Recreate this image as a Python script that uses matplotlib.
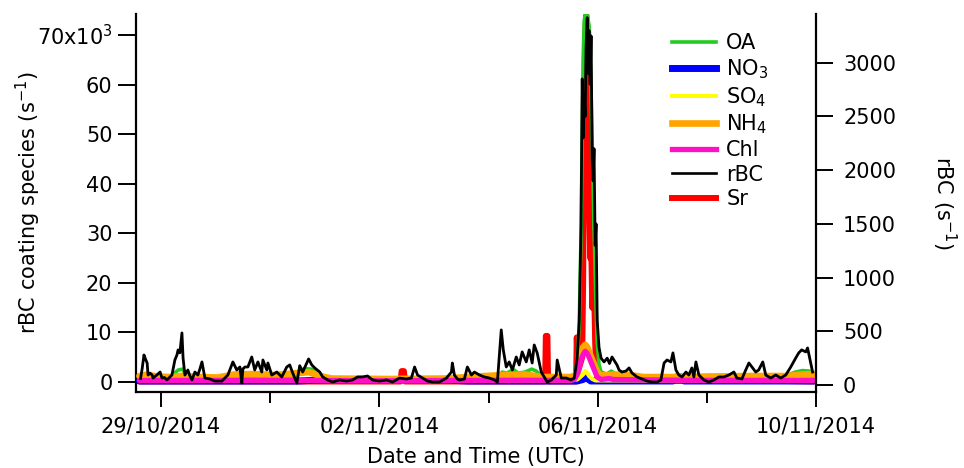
import numpy as np
import matplotlib
matplotlib.use("Agg")
import matplotlib.pyplot as plt
import matplotlib.dates as mdates
from matplotlib.ticker import FixedLocator, FixedFormatter
from matplotlib.lines import Line2D
from datetime import datetime

plt.rcParams['font.family'] = ['DejaVu Sans']
plt.rcParams['mathtext.fontset'] = 'dejavusans'

# time axis: hours after 29/10/2014 00:00 UTC
START = np.datetime64('2014-10-29T00:00')

rbc_hours = [-9.0, -8.3, -7.5, -6.8, -6.1, -5.7, -4.8, -3.9, -3.5, -2.0, -1.0, -0.4, 0.4, 1.5, 2.6, 3.7,
             4.8, 6.1, 7.0, 7.5, 8.3, 9.2, 9.7, 10.5, 11.8, 12.6, 13.6, 14.9, 16.2, 17.1, 18.0, 19.3,
             21.5, 23.7, 26.8, 29.4, 31.6, 33.3, 34.7, 35.5, 36.0, 36.9, 38.2, 39.9, 41.2, 42.6, 44.3,
             44.8, 46.5, 47.0, 48.7, 50.9, 53.1, 55.3, 56.6, 57.9, 59.7, 61.0, 62.3, 64.1, 64.9, 66.3,
             67.6, 69.8, 71.1, 73.3, 75.5, 78.5, 81.6, 84.2, 86.4, 88.6, 90.8, 93.0, 96.1, 99.2, 101.8,
             104.9, 107.9, 110.1, 111.5, 112.8, 115.0, 117.2, 119.4, 122.4, 125.5, 127.7, 128.1, 129.0,
             130.3, 131.2, 133.4, 134.7, 136.5, 137.8, 140.0, 142.2, 144.4, 146.6, 147.9, 149.6, 150.5,
             151.8, 153.1, 154.5, 156.2, 157.5, 158.8, 160.6, 161.9, 163.2, 164.1, 165.4, 167.2, 168.5,
             169.8, 171.6, 173.8, 174.2, 176.0, 178.2, 180.3, 181.7, 183.0, 183.9, 184.7, 185.2, 185.6,
             186.1, 186.5, 186.9, 187.4, 187.8, 188.2, 188.7, 189.1, 189.6, 190.0, 190.4, 190.9, 191.3,
             191.8, 192.6, 193.5, 194.8, 196.2, 197.2, 198.3, 200.5, 201.4, 202.7, 204.5, 205.8, 207.1,
             209.3, 211.5, 213.7, 215.9, 218.1, 219.8, 221.2, 222.5, 224.2, 225.1, 226.4, 227.7, 229.1,
             230.8, 232.1, 233.4, 234.3, 235.2, 236.5, 238.7, 240.9, 243.1, 245.3, 247.5, 249.7, 251.9,
             253.2, 255.4, 257.1, 258.5, 259.8, 261.5, 262.8, 264.6, 265.9, 268.1, 270.3, 272.5, 274.7,
             276.9, 279.1, 280.4, 281.7, 283.5, 284.3, 285.7, 286.5]
rbc_values = [60, 150, 280, 240, 205, 93, 110, 93, 65, 90, 110, 121, 65, 70, 47, 70,
              93, 233, 280, 327, 300, 485, 252, 93, 140, 90, 47, 121, 93, 150, 215, 65,
              56, 37, 37, 93, 215, 140, 168, 19, 150, 168, 168, 261, 140, 215, 121,
              233, 140, 205, 93, 121, 75, 168, 187, 112, 19, 180, 121, 205, 243, 187,
              159, 121, 75, 47, 28, 47, 37, 47, 75, 75, 84, 47, 37, 47, 28,
              65, 56, 65, 168, 93, 65, 37, 28, 28, 65, 121, 205, 93,
              56, 47, 56, 168, 93, 121, 93, 75, 65, 47, 28, 513, 327,
              168, 215, 140, 261, 187, 308, 215, 327, 205, 373, 299, 121, 75,
              28, 47, 93, 233, 65, 65, 47, 65, 250, 600, 1500, 2850, 2300,
              2700, 2500, 3150, 3420, 2900, 3300, 2800, 3250, 2100, 1900, 2200, 1300, 1500,
              600, 350, 250, 215, 250, 200, 261, 187, 140, 121, 131, 159, 112,
              75, 56, 37, 28, 28, 47, 205, 233, 215, 299, 140, 93, 75,
              121, 93, 159, 75, 215, 93, 47, 28, 47, 75, 75, 93, 121,
              65, 56, 140, 205, 168, 121, 140, 215, 93, 65, 93, 65, 93,
              168, 252, 299, 327, 308, 345, 205, 121]

oa_hours = [-9.5, -8, -5, 0, 4, 6, 7.5, 9.5, 11, 14, 18, 22, 27, 31, 35, 40, 44, 48, 53, 56, 59,
            61, 63, 66, 69, 72, 78, 90, 100, 110, 120, 130, 140, 148, 150, 152, 155, 157, 160, 163,
            165, 167, 170, 176, 180, 181.7, 183.0, 183.9, 184.7, 185.2, 185.6, 186.1, 186.5, 187.4,
            188.2, 188.7, 189.1, 189.6, 190.0, 190.4, 190.9, 191.3, 191.8, 192.6, 193.5, 196, 198,
            200, 204, 208, 212, 220, 226, 232, 238, 241, 245, 252, 257, 262, 267, 272, 276, 279,
            282, 285, 287]
oa_values = [1000, 1300, 1000, 900, 1100, 1800, 2400, 2600, 1400, 1000, 1300, 900, 800, 1300, 1400,
             1500, 1600, 1300, 1200, 1700, 1200, 2200, 2700, 2600, 2000, 900, 600, 600, 600, 700, 600,
             800, 800, 900, 2000, 1800, 2500, 1800, 2000, 2600, 2200, 1300, 900, 900, 1000, 1300, 4000,
             12000, 30000, 50000, 65000, 73000, 74000, 74000, 72000, 68000, 58000, 48000, 40000, 31000,
             22000, 15000, 8000, 3500, 2000, 1600, 2200, 1600, 1800, 1200, 800, 800, 1000, 900, 1000,
             1300, 1000, 1100, 1400, 1400, 1000, 1100, 1500, 2000, 2300, 2200, 1900]

no3_hours = [-9.5, 60, 75, 120, 135, 183, 185.6, 186.5, 187.4, 189, 225, 226.5, 229, 230, 287]
no3_values = [200, 200, 500, 500, 200, 200, 500, 900, 700, 200, 200, 1000, 1000, 200, 200]

so4_hours = [-9.5, 180, 183.0, 183.9, 185.6, 186.5, 187.4, 188.2, 189.6, 191, 287]
so4_values = [300, 300, 500, 800, 1500, 2200, 1800, 1200, 600, 300, 300]

nh4_hours = [-9.5, -6, -2, 5, 10, 15, 25, 32, 40, 50, 60, 65, 70, 75, 100, 125, 135, 150, 160, 168,
             180, 181.7, 183.0, 183.9, 184.7, 185.6, 186.5, 187.4, 188.2, 189.1, 190.0, 190.9, 191.8,
             193.5, 200, 206, 212, 230, 240, 260, 275, 282, 287]
nh4_values = [1200, 1500, 1100, 1000, 1300, 1000, 900, 1500, 1600, 1400, 1800, 2000, 1200, 700, 600,
              700, 1000, 1400, 1500, 1000, 1000, 1200, 2000, 4000, 5500, 7000, 7500, 7000, 6000, 5000,
              4000, 3000, 2000, 1300, 1500, 1400, 1000, 1000, 1100, 1200, 1200, 1500, 1600]

chl_hours = [-9.5, 50, 100, 150, 180, 181.7, 183.0, 183.9, 184.7, 185.6, 186.5, 187.4, 188.2, 189.1,
             190.0, 190.9, 191.8, 193.5, 197, 199, 230, 287]
chl_values = [300, 350, 250, 350, 350, 500, 1500, 3000, 4500, 5500, 6200, 5800, 5000, 4000, 3000,
              2000, 1000, 500, 700, 500, 350, 300]

sr_hours = [-9.5, 105.3, 105.8, 106.8, 107.3, 168.9, 169.2, 169.9, 170.2, 182.5, 182.8, 183.3, 185.2,
            185.6, 186.1, 186.5, 187.0, 187.6, 188.2, 188.7, 189.1, 189.6, 190.4, 190.9, 191.3, 192.0,
            193.5, 274.0, 274.7, 275.3, 287]
sr_values = [100, 100, 2200, 2200, 100, 100, 9300, 9300, 100, 100, 9000, 2000, 5000, 20000, 50000,
             70000, 74000, 60000, 40000, 25000, 30000, 15000, 20000, 8000, 3000, 500, 200, 200,
             1200, 200, 100]

left_ticks = [0, 10000, 20000, 30000, 40000, 50000, 60000, 70000]
left_labels = ['0', '10', '20', '30', '40', '50', '60', r'70x10$^{\mathregular{3}}$']
right_ticks = [0, 500, 1000, 1500, 2000, 2500, 3000]
major_dates = [datetime(2014, 10, 29), datetime(2014, 11, 2), datetime(2014, 11, 6), datetime(2014, 11, 10)]
minor_dates = [datetime(2014, 10, 31), datetime(2014, 11, 4), datetime(2014, 11, 8)]


def to_time(hours):
    secs = np.round(np.asarray(hours, float) * 3600).astype('timedelta64[s]')
    return START + secs


FS = 15
fig = plt.figure(figsize=(9.64, 4.68), dpi=100)
ax = fig.add_axes([136 / 964, 1 - 392 / 468, 680 / 964, (392 - 14) / 468])
ax2 = ax.twinx()

series = [
    ('Sr', sr_hours, sr_values, '#ff0000', 4.3, 1),
    ('OA', oa_hours, oa_values, '#22cc22', 2.6, 2),
    ('NO$_3$', no3_hours, no3_values, '#0000ff', 5.0, 3),
    ('SO$_4$', so4_hours, so4_values, '#ffff00', 2.9, 4),
    ('NH$_4$', nh4_hours, nh4_values, '#ffa500', 4.8, 5),
    ('Chl', chl_hours, chl_values, '#ff10c8', 3.8, 6),
]
handles = {}
for name, h, v, c, lw, z in series:
    ax.plot(to_time(h), v, color=c, lw=lw, zorder=z, solid_capstyle='round', solid_joinstyle='round')
    handles[name] = Line2D([], [], color=c, lw=lw)

ax2.plot(to_time(rbc_hours), rbc_values, color='black', lw=2.0)
handles['rBC'] = Line2D([], [], color='black', lw=1.9)

ax.set_xlim(datetime(2014, 10, 28, 13, 0), datetime(2014, 11, 10, 0, 0))
ax.set_ylim(-2017, 74240)
ax2.set_ylim(-65, 3454)

ax.xaxis.set_major_locator(FixedLocator(mdates.date2num(major_dates)))
ax.xaxis.set_minor_locator(FixedLocator(mdates.date2num(minor_dates)))
ax.xaxis.set_major_formatter(mdates.DateFormatter('%d/%m/%Y'))

ax.yaxis.set_major_locator(FixedLocator(left_ticks))
ax.yaxis.set_major_formatter(FixedFormatter(left_labels))
ax2.yaxis.set_major_locator(FixedLocator(right_ticks))

for a in (ax, ax2):
    for s in a.spines.values():
        s.set_linewidth(1.6)
ax.spines['top'].set_visible(False)
ax.spines['right'].set_visible(False)
ax2.spines['top'].set_visible(False)
ax2.spines['left'].set_visible(False)
ax2.spines['bottom'].set_visible(False)

ax.tick_params(axis='y', which='major', direction='out', length=13, width=1.4, pad=4, labelsize=FS)
ax.tick_params(axis='x', which='major', direction='out', length=11, width=1.4, pad=7, labelsize=FS)
ax.tick_params(axis='x', which='minor', direction='out', length=8, width=1.4)
ax2.tick_params(axis='y', which='major', direction='out', length=12.5, width=1.4, pad=7, labelsize=FS)

ax.set_xlabel('Date and Time (UTC)', fontsize=FS, labelpad=7)
ax.set_ylabel(r'rBC coating species (s$^{\mathregular{-1}}$)', fontsize=FS)
ax.yaxis.set_label_coords(-0.137, 0.5)
ax2.set_ylabel(r'rBC (s$^{\mathregular{-1}}$)', fontsize=FS, rotation=270, va='bottom')
ax2.yaxis.set_label_coords(1.1676, 0.5)

order = ['OA', 'NO$_3$', 'SO$_4$', 'NH$_4$', 'Chl', 'rBC', 'Sr']
fig.legend([handles[k] for k in order], order, loc='upper left',
           bbox_to_anchor=(672 / 964, 1 - 33 / 468), frameon=False, fontsize=15,
           handlelength=2.1, handletextpad=0.5, labelspacing=0.2, borderpad=0, borderaxespad=0)

fig.savefig('out.png', dpi=100)
